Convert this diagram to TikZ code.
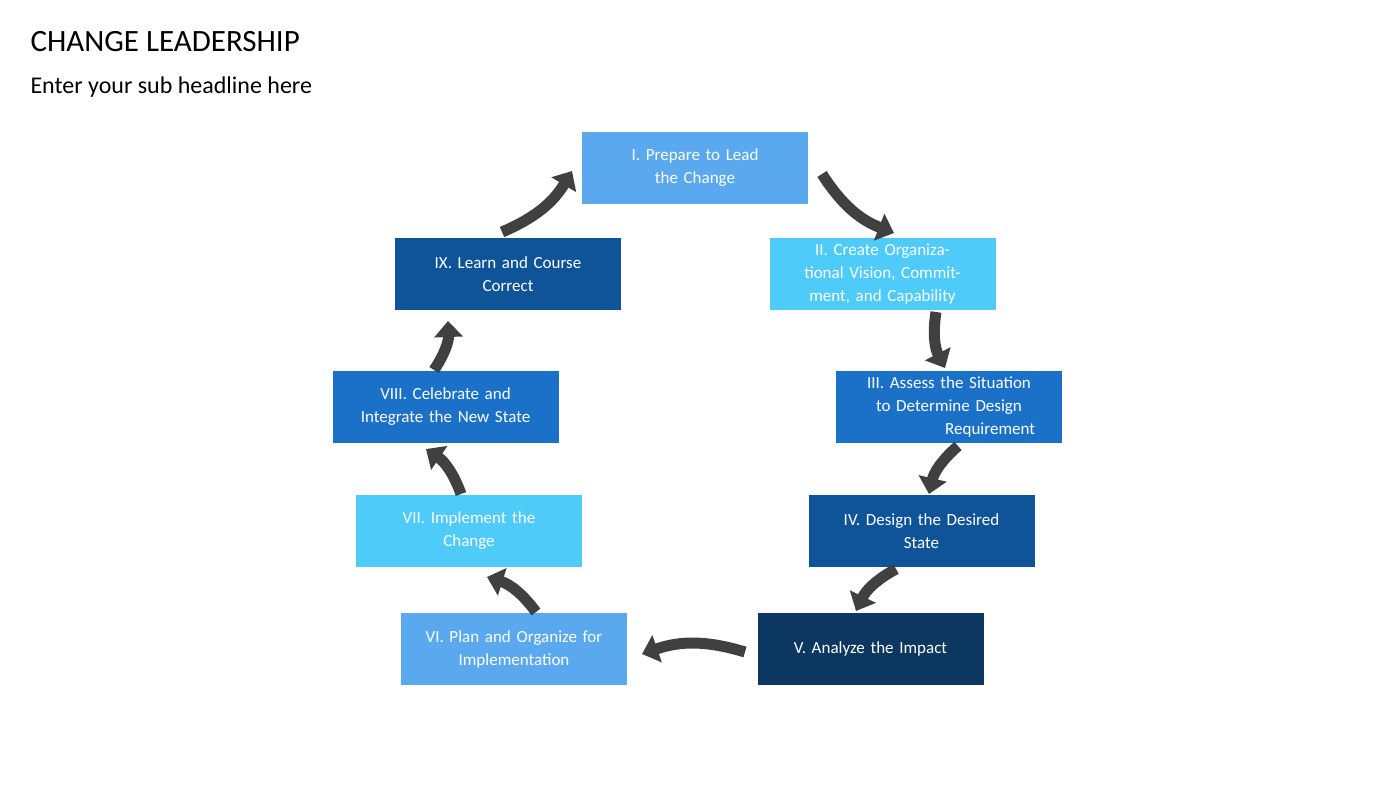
\documentclass[tikz,border=0pt]{standalone}
\usepackage{fontspec}
\setmainfont{Carlito}
\usetikzlibrary{arrows.meta}
\definecolor{cA}{HTML}{5AA9EE}
\definecolor{cB}{HTML}{4FCBFA}
\definecolor{cC}{HTML}{1B70C8}
\definecolor{cD}{HTML}{0F5399}
\definecolor{cE}{HTML}{0B3760}
\definecolor{arr}{HTML}{404040}
\begin{document}
\begin{tikzpicture}[x=1pt,y=-1pt,
 box/.style={minimum width=226pt,minimum height=72pt,text width=200pt,align=center,text=white,font=\fontsize{17}{23}\selectfont,inner sep=0pt},
 ar/.style={draw=arr,line width=11pt,-{Triangle[length=16pt,width=28pt]},bend right=18}]
\useasboundingbox (0,0) rectangle (1400,787);
\node[anchor=west,font=\fontsize{31}{34}\selectfont] (t) at (27,42) {CHANGE LEADERSHIP};
\node[anchor=west,font=\fontsize{24}{28}\selectfont] (s) at (27,87) {Enter your sub headline here};
\node[box,fill=cA] (b1) at (695,167.5) {I. Prepare to Lead\\the Change};
\node[box,fill=cB] (b2) at (882.5,274) {II. Create Organizational Vision, Commitment, and Capability};
\node[box,fill=cC] (b3) at (949,407) {III. Assess the Situation to Determine Design\\\hfill Requirement\hspace*{14pt}};
\node[box,fill=cD] (b4) at (921.5,531) {IV. Design the Desired\\State};
\node[box,fill=cE] (b5) at (870.5,649) {V. Analyze the Impact};
\node[box,fill=cA] (b6) at (514,649) {VI. Plan and Organize for\\Implementation};
\node[box,fill=cB] (b7) at (469,531) {VII. Implement the\\Change};
\node[box,fill=cC] (b8) at (445.5,407) {VIII. Celebrate and\\Integrate the New State};
\node[box,fill=cD] (b9) at (508,274) {IX. Learn and Course\\Correct};
\coordinate (a1s) at (822,174); \coordinate (a1e) at (894,233);
\coordinate (a2s) at (936,312); \coordinate (a2e) at (945,368);
\coordinate (a3s) at (958,446); \coordinate (a3e) at (929,494);
\coordinate (a4s) at (896,569); \coordinate (a4e) at (856,611);
\coordinate (a5s) at (745,652); \coordinate (a5e) at (642,654);
\coordinate (a6s) at (536,612); \coordinate (a6e) at (487,577);
\coordinate (a7s) at (461,494); \coordinate (a7e) at (426,449);
\coordinate (a8s) at (434,370); \coordinate (a8e) at (448,321);
\coordinate (a9s) at (502,232); \coordinate (a9e) at (572,171);
\foreach \i in {1,...,9} \draw[ar] (a\i s) to (a\i e);
\end{tikzpicture}
\end{document}
